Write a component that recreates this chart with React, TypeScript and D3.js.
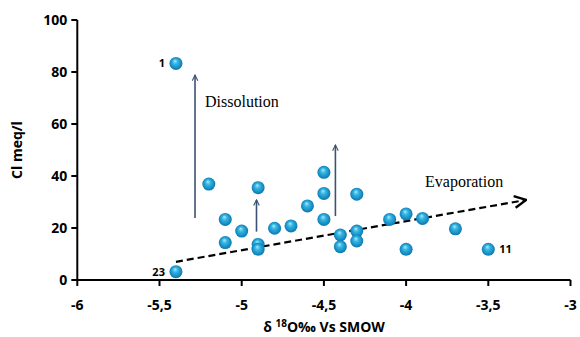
import React from "react";
import * as d3 from "d3";

const xValues = [-5.4, -5.4, -5.2, -5.1, -5.1, -5.0, -4.9, -4.9, -4.9, -4.8, -4.7, -4.6, -4.5, -4.5, -4.5, -4.4, -4.4, -4.3, -4.3, -4.3, -4.1, -4.0, -3.9, -4.0, -3.7, -3.5];
const yValues = [83.3, 3.2, 36.9, 23.3, 14.4, 18.8, 35.5, 13.7, 11.8, 19.9, 20.8, 28.5, 41.4, 33.3, 23.3, 17.3, 12.8, 33.0, 18.8, 15.0, 23.3, 25.4, 23.7, 11.8, 19.7, 11.8];
const pointLabels = ["1", "23", "", "", "", "", "", "", "", "", "", "", "", "", "", "", "", "", "", "", "", "", "", "", "", "11"];
const xTicks = [-6, -5.5, -5, -4.5, -4, -3.5, -3];
const yTicks = [0, 20, 40, 60, 80, 100];
// vertical arrows: x, yFrom, yTo
const arrowX = [-5.284, -4.91, -4.43];
const arrowFrom = [23.8, 18.6, 24.6];
const arrowTo = [78.8, 30.8, 51.9];
// evaporation trend arrow
const trendX = [-5.4, -3.27];
const trendY = [7.0, 30.8];

export default function App() {
  const W = 580, H = 337;
  const x = d3.scaleLinear().domain([-6, -3]).range([77.3, 570.5]);
  const y = d3.scaleLinear().domain([0, 100]).range([280, 20]);
  const fmt = (v: number) => String(v).replace(".", ",");
  const tickFont = "'Open Sans', 'Liberation Sans', sans-serif";
  const arrowColor = "#3c5274";

  return (
    <svg width={W} height={H} style={{ position: "absolute", left: 0, top: 0, background: "#fff" }}>
      <defs>
        <radialGradient id="ball" cx="50%" cy="50%" r="55%" fx="42%" fy="30%">
          <stop offset="0%" stopColor="#a8ecfb" />
          <stop offset="35%" stopColor="#35b4e2" />
          <stop offset="80%" stopColor="#1287be" />
          <stop offset="100%" stopColor="#0b6a98" />
        </radialGradient>
        <marker id="headV" viewBox="0 0 10 10" refX="9" refY="5" markerWidth="7" markerHeight="7" orient="auto" markerUnits="userSpaceOnUse">
          <path d="M1,1 L9,5 L1,9" fill="none" stroke={arrowColor} strokeWidth="1.6" />
        </marker>
        <marker id="headT" viewBox="0 0 12 12" refX="11" refY="6" markerWidth="14" markerHeight="14" orient="auto" markerUnits="userSpaceOnUse">
          <path d="M1,1 L11,6 L1,11" fill="none" stroke="#000" strokeWidth="2" />
        </marker>
      </defs>

      {/* axes */}
      <line x1={x(-6)} x2={x(-3)} y1={y(0)} y2={y(0)} stroke="#000" strokeWidth={2} />
      <line x1={x(-6)} x2={x(-6)} y1={y(0)} y2={y(100)} stroke="#000" strokeWidth={2} />
      {xTicks.map((t) => (
        <g key={"xt" + t}>
          <line x1={x(t)} x2={x(t)} y1={y(0)} y2={y(0) + 6} stroke="#000" strokeWidth={2} />
          <text x={x(t)} y={310} textAnchor="middle" fontFamily={tickFont} fontWeight="bold" fontSize={14}>{fmt(t)}</text>
        </g>
      ))}
      {yTicks.map((t) => (
        <g key={"yt" + t}>
          <line x1={x(-6) - 6} x2={x(-6)} y1={y(t)} y2={y(t)} stroke="#000" strokeWidth={2} />
          <text x={x(-6) - 10} y={y(t) + 5} textAnchor="end" fontFamily={tickFont} fontWeight="bold" fontSize={14}>{t}</text>
        </g>
      ))}

      <text transform={`translate(22,150) rotate(-90)`} textAnchor="middle" fontFamily={tickFont} fontWeight="bold" fontSize={14}>Cl meq/l</text>
      <text x={324} y={332} textAnchor="middle" fontFamily={tickFont} fontWeight="bold" fontSize={14}>
        δ <tspan fontSize={10} dy={-5}>18</tspan><tspan dy={5}>O‰ Vs SMOW</tspan>
      </text>

      {/* vertical arrows */}
      {arrowX.map((ax, i) => (
        <line key={"a" + i} x1={x(ax)} x2={x(ax)} y1={y(arrowFrom[i])} y2={y(arrowTo[i])} stroke={arrowColor} strokeWidth={1.6} markerEnd="url(#headV)" />
      ))}
      <text x={205} y={107} fontFamily="'Liberation Serif', 'DejaVu Serif', serif" fontSize={16}>Dissolution</text>

      {/* trend arrow */}
      <line x1={x(trendX[0])} y1={y(trendY[0])} x2={x(trendX[1])} y2={y(trendY[1])} stroke="#000" strokeWidth={2.2} strokeDasharray="7,4" markerEnd="url(#headT)" />
      <text x={425} y={187} fontFamily="'Liberation Serif', 'DejaVu Serif', serif" fontSize={16}>Evaporation</text>

      {/* points */}
      {xValues.map((xv, i) => (
        <circle key={"p" + i} cx={x(xv)} cy={y(yValues[i])} r={6.5} fill="url(#ball)" />
      ))}
      {xValues.map((xv, i) =>
        pointLabels[i] ? (
          <text
            key={"l" + i}
            x={pointLabels[i] === "11" ? x(xv) + 11 : x(xv) - 11}
            y={y(yValues[i]) + 4}
            textAnchor={pointLabels[i] === "11" ? "start" : "end"}
            fontFamily={tickFont}
            fontWeight="bold"
            fontSize={11}
          >
            {pointLabels[i]}
          </text>
        ) : null
      )}
    </svg>
  );
}
